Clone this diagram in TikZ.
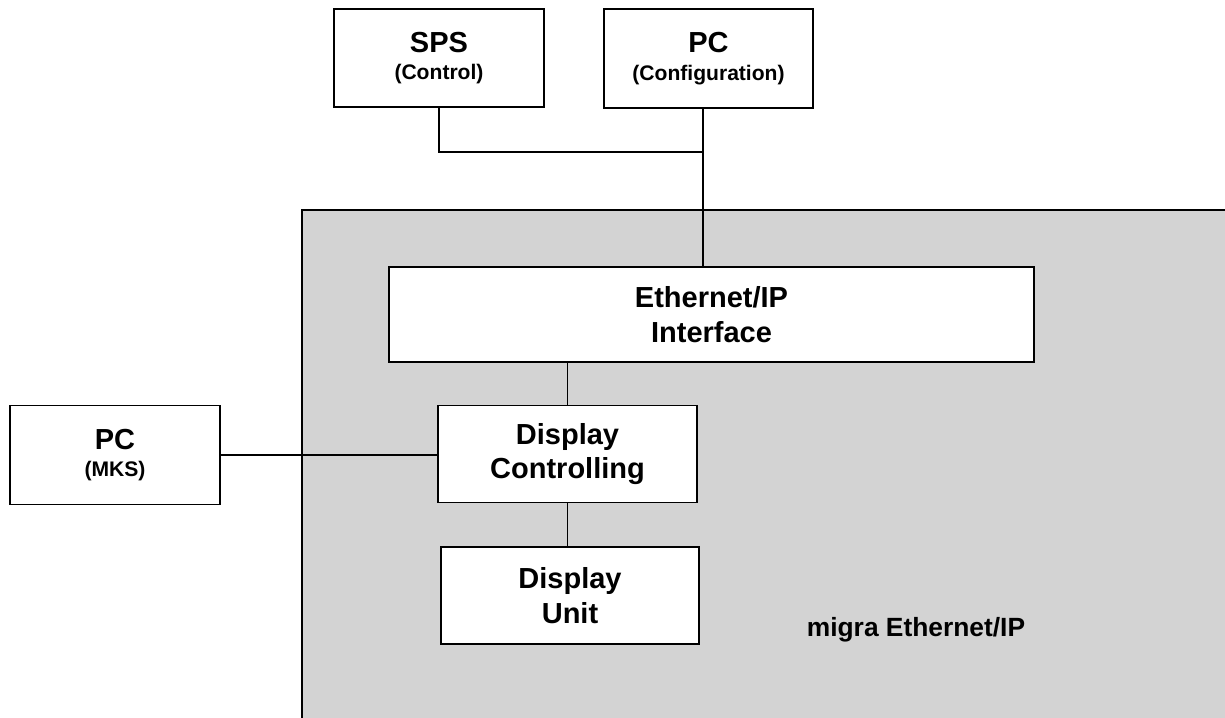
\documentclass[tikz,border=0pt]{standalone}
\usepackage{fontspec}
\setmainfont{Liberation Sans}
\usepackage{tikz}
\usetikzlibrary{positioning}
\definecolor{mgray}{RGB}{211,211,211}
\tikzstyle{block} = [draw, line width=1pt, fill=white, align=center, inner sep=0pt, font=\fontsize{16.5}{19.5}\selectfont\bfseries]
\tikzstyle{link} = [line width=0.7pt]
\newcommand{\subtxt}[1]{{\fontsize{12}{14}\selectfont #1}}

\begin{document}
\begin{tikzpicture}[x=0.2mm, y=-0.2mm]
\useasboundingbox (0,0) rectangle (1225,718);
% Device area
\fill[mgray] (302,210) rectangle (1225,718);
\draw[line width=0.8pt] (1225,210) -- (302,210) -- (302,718);
\node[font=\fontsize{15}{19}\selectfont\bfseries] (migra) at (916,630) {migra Ethernet/IP};

% Outside devices
\node[block, minimum width=42mm, minimum height=19.6mm] (sps) at (439,58) {SPS\\[-4pt]\subtxt{(Control)}};
\node[block, minimum width=41.8mm, minimum height=19.8mm] (pcc) at (708.5,58.5) {PC\\[-4pt]\subtxt{(Configuration)}};
\node[block, minimum width=42mm, minimum height=19.8mm] (mks) at (115,455) {PC\\[-4pt]\subtxt{(MKS)}};

% Inside blocks
\node[block, minimum width=129mm, minimum height=19mm] (eth) at (711.5,314.5) {Ethernet/IP\\Interface};
\node[block, minimum width=51.8mm, minimum height=19.4mm] (dc) at (567.5,454) {Display\\Controlling};
\node[block, minimum width=51.6mm, minimum height=19.4mm] (du) at (570,595.5) {Display\\Unit};

% Connections
\coordinate (bus) at (703,152);
\draw[link] (sps.south) |- (bus);
\draw[link] (bus |- pcc.south) -- (bus |- eth.north);
\draw[link] (eth.south -| dc.north) -- (dc.north);
\draw[link] (mks.east) -- (mks.east -| dc.west);
\draw[link] (dc.south) -- (dc.south |- du.north);
\end{tikzpicture}
\end{document}
